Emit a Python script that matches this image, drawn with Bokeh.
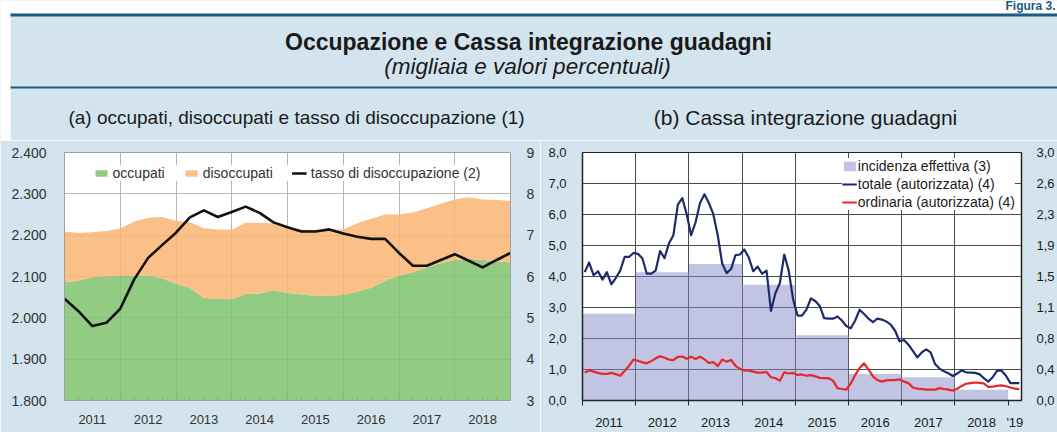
from bokeh.plotting import figure
from bokeh.models import (Range1d, LinearAxis, FixedTicker, Legend, LegendItem,
                          Label, BoxAnnotation, ColumnDataSource)
from bokeh.layouts import column, row
from bokeh.embed import file_html
from bokeh.resources import INLINE

# ---------------- data ----------------
# panel (a): quarterly, 2010Q4 .. 2018Q4 (thousands / percent)
trimestri = ["2010Q4"] + [f"{y}Q{q}" for y in range(2011, 2019) for q in range(1, 5)]
occupati = [2086, 2090, 2098, 2100, 2101, 2102, 2102, 2096, 2082, 2072, 2048, 2046,
            2045, 2058, 2059, 2067, 2060, 2057, 2053, 2054, 2055, 2063, 2073, 2090,
            2102, 2110, 2122, 2132, 2140, 2143, 2140, 2137, 2134]
disoccupati = [123, 115, 109, 110, 115, 131, 140, 148, 153, 159, 169, 168,
               168, 172, 171, 162, 159, 157, 160, 159, 159, 166, 167, 160,
               148, 145, 143, 144, 146, 149, 146, 148, 149]
tasso = [5.46, 5.16, 4.80, 4.88, 5.22, 5.93, 6.45, 6.76, 7.06, 7.43, 7.60, 7.44,
         7.56, 7.69, 7.54, 7.31, 7.19, 7.09, 7.09, 7.14, 7.04, 6.96, 6.91, 6.91,
         6.57, 6.26, 6.26, 6.40, 6.54, 6.38, 6.22, 6.40, 6.57]
anni_a = ["2011", "2012", "2013", "2014", "2015", "2016", "2017", "2018"]
yticks_a = {1800: "1.800", 1900: "1.900", 2000: "2.000", 2100: "2.100",
            2200: "2.200", 2300: "2.300", 2400: "2.400"}
rticks_a = [3, 4, 5, 6, 7, 8, 9]

# panel (b): monthly, 2011-01 .. 2019-03
mesi = [f"{y}-{m:02d}" for y in range(2011, 2020) for m in range(1, 13)][:99]
totale = [4.14, 4.45, 4.04, 4.17, 3.90, 4.14, 3.75, 3.95, 4.19, 4.63, 4.63, 4.76,
          4.73, 4.59, 4.09, 4.09, 4.19, 4.82, 4.59, 5.07, 5.33, 6.32, 6.53, 6.01,
          5.33, 5.75, 6.37, 6.65, 6.37, 6.01, 5.33, 4.42, 4.11, 4.24, 4.69, 4.71,
          4.87, 4.61, 4.17, 4.32, 4.09, 4.19, 2.89, 3.46, 3.78, 4.71, 4.19, 3.26,
          2.74, 2.74, 2.93, 3.29, 3.21, 3.05, 2.66, 2.64, 2.64, 2.71, 2.58, 2.40,
          2.33, 2.58, 2.93, 2.79, 2.64, 2.53, 2.64, 2.61, 2.55, 2.45, 2.25, 1.91,
          1.95, 1.80, 1.60, 1.39, 1.55, 1.65, 1.55, 1.18, 1.03, 0.94, 0.88, 0.79,
          0.87, 0.97, 0.91, 0.90, 0.89, 0.85, 0.72, 0.61, 0.75, 0.96, 0.96, 0.80,
          0.56, 0.56, 0.56]
ordinaria = [0.90, 0.97, 0.93, 0.89, 0.86, 0.86, 0.89, 0.85, 0.80, 0.95, 1.12, 1.32,
             1.28, 1.23, 1.20, 1.27, 1.36, 1.43, 1.38, 1.32, 1.30, 1.41, 1.42, 1.35,
             1.41, 1.34, 1.41, 1.33, 1.21, 1.24, 1.11, 1.32, 1.25, 1.31, 1.12, 1.02,
             0.97, 0.96, 0.93, 0.90, 0.90, 0.92, 0.75, 0.72, 0.64, 0.91, 0.87, 0.89,
             0.82, 0.84, 0.80, 0.82, 0.78, 0.73, 0.72, 0.72, 0.64, 0.40, 0.37, 0.35,
             0.55, 0.82, 1.05, 1.20, 1.00, 0.78, 0.66, 0.61, 0.65, 0.66, 0.66, 0.68,
             0.61, 0.56, 0.42, 0.38, 0.37, 0.35, 0.35, 0.35, 0.40, 0.37, 0.35, 0.32,
             0.38, 0.47, 0.54, 0.56, 0.58, 0.57, 0.55, 0.44, 0.45, 0.47, 0.49, 0.46,
             0.42, 0.38, 0.37]
anni_b = [2011, 2012, 2013, 2014, 2015, 2016, 2017, 2018]
incidenza = [1.05, 1.55, 1.65, 1.40, 0.79, 0.32, 0.28, 0.13]
yticks_b = {0: "0,0", 1: "1,0", 2: "2,0", 3: "3,0", 4: "4,0", 5: "5,0",
            6: "6,0", 7: "7,0", 8: "8,0"}
rticks_b = {0: "0,0", 0.375: "0,4", 0.75: "0,8", 1.125: "1,1", 1.5: "1,5",
            1.875: "1,9", 2.25: "2,3", 2.625: "2,6", 3.0: "3,0"}

# ---------------- style ----------------
FONT = "Liberation Sans"
BG = "#d4e4ee"
DARK = "#1c5a7e"
GREEN = "#7ec36c"
ORANGE = "#f9b572"
NAVY = "#1f2a6b"
RED = "#e8262b"

# ---------------- header ----------------
W, HH = 1057, 140
hdr = figure(width=W, height=HH, x_range=Range1d(0, W), y_range=Range1d(HH, 0),
             output_backend="svg", toolbar_location=None, min_border=0,
             x_axis_location=None, y_axis_location=None)
hdr.grid.visible = False
hdr.outline_line_color = None
hdr.background_fill_color = BG
hdr.border_fill_color = BG
hdr.add_layout(BoxAnnotation(left=0, right=W, top=0, bottom=13, fill_color="white",
                             fill_alpha=1, line_color=None))
hdr.add_layout(BoxAnnotation(left=0, right=10, top=0, bottom=HH, fill_color="white",
                             fill_alpha=1, line_color=None))
hdr.add_layout(BoxAnnotation(left=10, right=W, top=13, bottom=16, fill_color=DARK,
                             fill_alpha=1, line_color=None))
hdr.add_layout(BoxAnnotation(left=10, right=W, top=86, bottom=88, fill_color=DARK,
                             fill_alpha=1, line_color=None))
hdr.add_layout(Label(x=1055, y=12, text="Figura 3.", text_font=FONT, text_font_size="12px",
                     text_font_style="bold", text_color=DARK, text_align="right",
                     text_baseline="bottom"))


def lab(x, y, t, size, style="normal", color="#1a1a1a"):
    hdr.add_layout(Label(x=x, y=y, text=t, text_font=FONT, text_font_size=size,
                         text_font_style=style, text_color=color,
                         text_align="center", text_baseline="middle"))


lab(528, 41, "Occupazione e Cassa integrazione guadagni", "23px", "bold")
lab(527, 66, "(migliaia e valori percentuali)", "22.5px", "italic")
lab(296, 117, "(a) occupati, disoccupati e tasso di disoccupazione (1)", "19px")
lab(805, 117, "(b) Cassa integrazione guadagni", "21px")

# ---------------- panel (a) ----------------
xq = [int(t[:4]) + int(t[-1]) / 4 for t in trimestri]
totali = [o + d for o, d in zip(occupati, disoccupati)]
srcA = ColumnDataSource(dict(x=xq, occ=occupati, tot=totali, rate=tasso))

pL = figure(width=540, height=292, x_range=Range1d(2011, 2019), y_range=Range1d(1800, 2400),
            output_backend="svg", toolbar_location=None,
            min_border_left=64, min_border_right=30, min_border_top=12, min_border_bottom=25)
pL.background_fill_color = "white"
pL.border_fill_color = BG
pL.outline_line_color = "#a0a0a0"
pL.extra_y_ranges = {"rate": Range1d(3, 9)}

r_occ = pL.varea(x="x", y1=0, y2="occ", source=srcA, fill_color=GREEN, fill_alpha=0.85)
r_dis = pL.varea(x="x", y1="occ", y2="tot", source=srcA, fill_color=ORANGE, fill_alpha=0.85)
r_rate = pL.line(x="x", y="rate", source=srcA, y_range_name="rate",
                 line_color="#111111", line_width=2.6, line_join="round")

centers_a = [int(a) + 0.5 for a in anni_a]
pL.xaxis.ticker = FixedTicker(ticks=centers_a, minor_ticks=xq)
pL.xaxis.major_label_overrides = {c: a for c, a in zip(centers_a, anni_a)}
pL.xaxis.major_tick_line_color = None
pL.xaxis.minor_tick_in = 3
pL.xaxis.minor_tick_out = 0
pL.xaxis.minor_tick_line_color = "#9a9a9a"
pL.xaxis.major_label_standoff = 8
pL.xaxis.major_label_text_font_size = "13px"

pL.yaxis.ticker = FixedTicker(ticks=list(yticks_a.keys()))
pL.yaxis.major_label_overrides = yticks_a
pL.yaxis.major_tick_line_color = None
pL.yaxis.minor_tick_line_color = None
pL.yaxis.major_label_standoff = 12
pL.yaxis.major_label_text_font_size = "14px"

axR = LinearAxis(y_range_name="rate", ticker=FixedTicker(ticks=rticks_a))
axR.major_tick_line_color = None
axR.minor_tick_line_color = None
axR.major_label_standoff = 10
axR.major_label_text_font_size = "14px"
pL.add_layout(axR, "right")

for ax in pL.axis:
    ax.axis_line_color = "#a0a0a0"
    ax.major_label_text_font = FONT
    ax.major_label_text_color = "#333333"

pL.xgrid.ticker = FixedTicker(ticks=[2012, 2013, 2014, 2015, 2016, 2017, 2018])
pL.ygrid.ticker = FixedTicker(ticks=[1900, 2000, 2100, 2200, 2300])
pL.grid.grid_line_color = "#b8b8b8"
pL.grid.grid_line_width = 1

legA = Legend(items=[LegendItem(label="occupati", renderers=[r_occ]),
                     LegendItem(label="disoccupati", renderers=[r_dis]),
                     LegendItem(label="tasso di disoccupazione (2)", renderers=[r_rate])],
              orientation="horizontal", location="top", margin=13, padding=2,
              spacing=19, glyph_width=15, glyph_height=8, label_standoff=4,
              label_height=16, label_text_font=FONT, label_text_font_size="14px",
              label_text_color="#333333", border_line_color=None,
              background_fill_color="white", background_fill_alpha=1)
pL.add_layout(legA, "center")

# ---------------- panel (b) ----------------
xm = [int(m[:4]) + (int(m[5:]) - 0.5) / 12 for m in mesi]
srcB = ColumnDataSource(dict(x=xm, tot=totale, ordn=ordinaria))
srcI = ColumnDataSource(dict(l=anni_b, r=[a + 1 for a in anni_b], top=incidenza))

pR = figure(width=517, height=292, x_range=Range1d(2011, 2019.25), y_range=Range1d(0, 8),
            output_backend="svg", toolbar_location=None,
            min_border_left=42, min_border_right=32, min_border_top=11, min_border_bottom=24)
pR.background_fill_color = "white"
pR.border_fill_color = BG
pR.outline_line_color = "#222222"
pR.extra_y_ranges = {"inc": Range1d(0, 3)}

r_inc = pR.quad(left="l", right="r", bottom=0, top="top", source=srcI, y_range_name="inc",
                fill_color="#8389c6", fill_alpha=0.5, line_color=None)
r_tot = pR.line(x="x", y="tot", source=srcB, line_color=NAVY, line_width=2.2,
                line_join="round")
r_ord = pR.line(x="x", y="ordn", source=srcB, line_color=RED, line_width=2.2,
                line_join="round")

labels_b = [str(a) for a in anni_b] + ["'19"]
centers_b = [a + 0.5 for a in anni_b] + [2019.125]
pR.xaxis.ticker = FixedTicker(ticks=centers_b, minor_ticks=anni_b + [2019])
pR.xaxis.major_label_overrides = {c: t for c, t in zip(centers_b, labels_b)}
pR.xaxis.major_tick_line_color = None
pR.xaxis.minor_tick_in = 0
pR.xaxis.minor_tick_out = 5
pR.xaxis.minor_tick_line_color = "#222222"
pR.xaxis.major_label_standoff = 8
pR.xaxis.major_label_text_font_size = "13px"

pR.yaxis.ticker = FixedTicker(ticks=list(yticks_b.keys()))
pR.yaxis.major_label_overrides = yticks_b
pR.yaxis.major_tick_line_color = None
pR.yaxis.minor_tick_line_color = None
pR.yaxis.major_label_standoff = 10
pR.yaxis.major_label_text_font_size = "13px"

axRb = LinearAxis(y_range_name="inc", ticker=FixedTicker(ticks=list(rticks_b.keys())))
axRb.major_label_overrides = rticks_b
axRb.major_tick_line_color = None
axRb.minor_tick_line_color = None
axRb.major_label_standoff = 9
axRb.major_label_text_font_size = "13px"
pR.add_layout(axRb, "right")

for ax in pR.axis:
    ax.axis_line_color = "#222222"
    ax.axis_line_width = 1.5
    ax.major_label_text_font = FONT
    ax.major_label_text_color = "#1a1a1a"

pR.xgrid.ticker = FixedTicker(ticks=[2012, 2013, 2014, 2015, 2016, 2017, 2018])
pR.ygrid.ticker = FixedTicker(ticks=[1, 2, 3, 4, 5, 6, 7])
pR.grid.grid_line_color = "#4a4a4a"
pR.grid.grid_line_width = 1

legB = Legend(items=[LegendItem(label="incidenza effettiva (3)", renderers=[r_inc]),
                     LegendItem(label="totale (autorizzata) (4)", renderers=[r_tot]),
                     LegendItem(label="ordinaria (autorizzata) (4)", renderers=[r_ord])],
              location="top_right", margin=6, padding=8, spacing=2,
              glyph_width=15, glyph_height=12, label_standoff=1, label_height=16,
              label_text_font=FONT, label_text_font_size="14px",
              label_text_color="#1a1a1a", border_line_color=None,
              background_fill_color="white", background_fill_alpha=1)
pR.add_layout(legB, "center")

layout = column(hdr, row(pL, pR, spacing=0), spacing=0)
open("out.html", "w").write(file_html(layout, INLINE))
